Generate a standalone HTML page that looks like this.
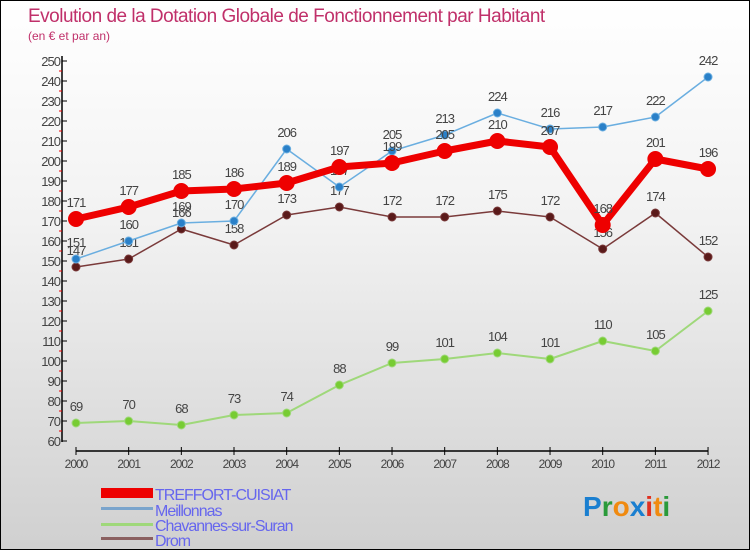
<!DOCTYPE html>
<html><head><meta charset="utf-8"><style>
body{margin:0;width:750px;height:550px;overflow:hidden;font-family:"Liberation Sans",sans-serif}
#wrap{position:relative;width:748px;height:548px;border:1px solid #000;background:linear-gradient(#fff 0%,#f2f2f2 40%,#d0d0d0 100%)}
</style></head><body>
<div id="wrap">
<svg id="c" width="748" height="548" style="position:absolute;left:0;top:0">
<text x="27" y="21" font-size="19" fill="#c0306a" letter-spacing="-0.5">Evolution de la Dotation Globale de Fonctionnement par Habitant</text>
<text x="27" y="39" font-size="12" fill="#c0306a">(en € et par an)</text>
<g id="axes"></g><g id="series"></g>
<g>
<rect x="100" y="487" width="52" height="10" fill="#e00"/>
<text x="154" y="499" font-size="16" fill="#6666ee" letter-spacing="-1">TREFFORT-CUISIAT</text>
<rect x="100" y="506" width="52" height="3" fill="#7aa4cc"/>
<text x="154" y="515" font-size="16" fill="#6666ee" letter-spacing="-1">Meillonnas</text>
<rect x="100" y="522" width="52" height="3" fill="#9fd87a"/>
<text x="154" y="530" font-size="16" fill="#6666ee" letter-spacing="-1">Chavannes-sur-Suran</text>
<rect x="100" y="536" width="52" height="3" fill="#8a6060"/>
<text x="154" y="545" font-size="16" fill="#6666ee" letter-spacing="-1">Drom</text>
</g>
<text x="582" y="515" font-size="28" font-weight="bold"><tspan fill="#1a7fd0">P</tspan><tspan fill="#2a9a3a">r</tspan><tspan fill="#f08a10">o</tspan><tspan fill="#1a7fd0">x</tspan><tspan fill="#e03020">i</tspan><tspan fill="#f08a10">t</tspan><tspan fill="#2a9a3a">i</tspan></text>
</svg>
</div>
<script>
const years=[2000,2001,2002,2003,2004,2005,2006,2007,2008,2009,2010,2011,2012];
const treffort=[171,177,185,186,189,197,199,205,210,207,168,201,196];
const meillonnas=[151,160,169,170,206,187,205,213,224,216,217,222,242];
const chavannes=[69,70,68,73,74,88,99,101,104,101,110,105,125];
const drom=[147,151,166,158,173,177,172,172,175,172,156,174,152];
const yTicks=[60,70,80,90,100,110,120,130,140,150,160,170,180,190,200,210,220,230,240,250];
const NS="http://www.w3.org/2000/svg";
const X=i=>75+i*52.67, Y=v=>440-(v-60)*2;
function mk(t,a,p){const e=document.createElementNS(NS,t);for(const k in a)e.setAttribute(k,a[k]);p.appendChild(e);return e;}
const ax=document.getElementById('axes'), sg=document.getElementById('series');
let l=mk('line',{x1:61,y1:55,x2:61,y2:441,stroke:'#000','stroke-width':1.5},ax);


l=mk('line',{x1:75,y1:450,x2:707,y2:450,stroke:'#000','stroke-width':1.5},ax);


yTicks.forEach(v=>{
 mk('line',{x1:61,y1:Y(v),x2:66,y2:Y(v),stroke:'#000'},ax);
 if(v<250) mk('line',{x1:58,y1:Y(v+5),x2:61,y2:Y(v+5),stroke:'#e00'},ax);
 const t=mk('text',{x:59,y:Y(v)+5,'font-size':13,'text-anchor':'end',fill:'#444','letter-spacing':'-1'},ax);
 t.textContent=v;
 
 
});
years.forEach((y,i)=>{
 mk('line',{x1:X(i),y1:446,x2:X(i),y2:454,stroke:'#000'},ax);
 const t=mk('text',{x:X(i),y:467,'font-size':12,'text-anchor':'middle',fill:'#444','letter-spacing':'-1'},ax);
 t.textContent=y;
 
 
});
function series(data,name,color,w,r,dot){
 const g=mk('g',{},sg);
 
 
 const p=mk('polyline',{points:data.map((v,i)=>X(i)+','+Y(v)).join(' '),fill:'none',stroke:color,'stroke-width':w,'stroke-linejoin':'round'},g);
 
 
 data.forEach((v,i)=>{
  const c=mk('circle',{cx:X(i),cy:Y(v),r:r,fill:dot,stroke:color,'stroke-width':1},g);
  
  
  const t=mk('text',{x:X(i),y:Y(v)-12,'font-size':13,'text-anchor':'middle',fill:'#444','letter-spacing':'-1'},g);
  t.textContent=v;
  
  
 });
}
series(chavannes,'chavannes','#9fd87a',2,4,'#77cc33');
series(drom,'drom','#7a3a3a',1.5,4,'#5a1a1a');
series(meillonnas,'meillonnas','#6aaee0',1.5,4,'#2a80c8');
series(treffort,'treffort','#ee0000',7,7.5,'#ee0000');
</script>
</body></html>
